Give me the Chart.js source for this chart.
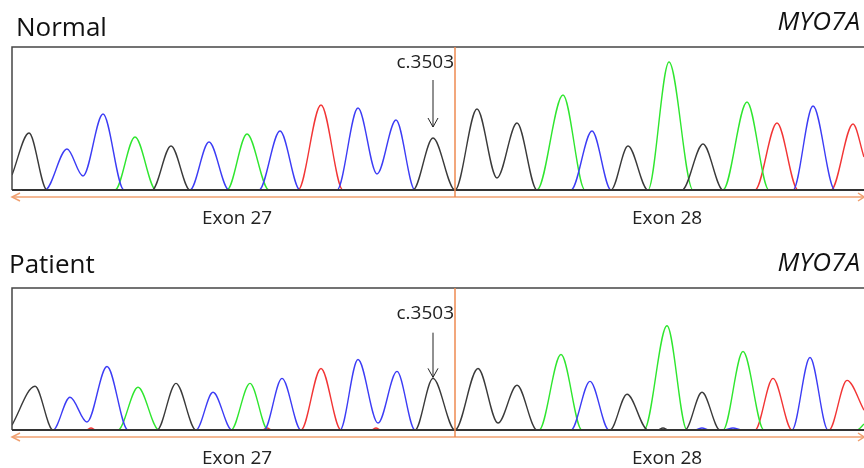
<!DOCTYPE html>
<html>
<head>
<meta charset="utf-8">
<script src="https://cdn.jsdelivr.net/npm/chart.js@4"></script>
<style>
  html, body { margin: 0; padding: 0; background: #fff; }
  #wrap { position: relative; width: 864px; height: 468px; }
  #wrap canvas { position: absolute; left: 0; }
</style>
</head>
<body>
<div id="wrap">
  <canvas id="normalChart" width="864" height="234" style="top:0"></canvas>
  <canvas id="patientChart" width="864" height="234" style="top:234px"></canvas>
</div>
<script>
// scan position vs signal (base, apex, valley, apex, base ...)
const normalBlack = [[0,15],[17,57],[35,0],[140,0],[159,44],[178,0],[401,0],[421,52],[443,0],[465,81],[485,12],[505,67],[525,0],[599,0],[616,44],[636,0],[670,0],[691,46],[711,0],[852,0]];
const normalBlue  = [[0,0],[33,0],[55,41],[71,14],[91,76],[112,0],[178,0],[197,48],[217,0],[247,0],[268,59],[288,0],[325,0],[346,82],[365,16],[384,70],[403,0],[559,0],[580,59],[599,0],[781,0],[801,84],[823,0],[852,0]];
const normalGreen = [[0,0],[103,0],[123,53],[144,0],[215,0],[235,56],[257,0],[525,0],[551,95],[573,0],[636,0],[657,128],[681,0],[711,0],[735,88],[757,0],[852,0]];
const normalRed   = [[0,0],[286,0],[309,85],[331,0],[743,0],[765,67],[786,0],[819,0],[841,66],[852,33]];

const patientBlack = [[0,5],[23,44],[41,0],[145,0],[164,47],[184,0],[403,0],[421,52],[443,0],[466,62],[486,7],[505,45],[525,0],[598,0],[615,36],[636,0],[645,0],[651,2],[657,0],[673,0],[690,38],[708,0],[852,0]];
const patientBlue  = [[0,0],[41,0],[58,33],[75,8],[95,64],[116,0],[184,0],[201,38],[220,0],[252,0],[270,52],[289,0],[328,0],[346,71],[366,7],[385,59],[403,0],[559,0],[578,49],[597,0],[683,0],[690,2],[697,0],[712,0],[721,2],[730,0],[780,0],[798,73],[816,0],[852,0]];
const patientGreen = [[0,0],[106,0],[126,43],[147,0],[219,0],[238,47],[256,0],[527,0],[549,76],[570,0],[632,0],[655,105],[675,0],[711,0],[731,79],[752,0],[845,0],[852,6]];
const patientRed   = [[0,0],[74,0],[79,2],[84,0],[250,0],[255,2],[260,0],[289,0],[309,62],[329,0],[359,0],[364,2],[369,0],[743,0],[761,52],[780,0],[817,0],[835,50],[852,20]];

const exonLabels = ['Exon 27', 'Exon 28'];
const exonLabelPos = [225, 655];
const exonBoundary = 443;
const mutationLabel = 'c.3503';
const mutationPos = 421;
const geneName = 'MYO7A';

const traceColors = { black: '#3a3a3a', blue: '#3c3cf5', green: '#2fe62f', red: '#f23535' };
const orange = '#f0a070';

function trace(data, color) {
  return {
    data: data.map(p => ({ x: p[0], y: p[1] })),
    borderColor: color,
    borderWidth: 1.4,
    pointRadius: 0,
    fill: false,
    cubicInterpolationMode: 'monotone'
  };
}

// frame, orange exon arrows, labels and the c.3503 marker
const decor = {
  id: 'decor',
  afterDatasetsDraw(chart, args, opts) {
    const ctx = chart.ctx;
    const a = chart.chartArea;
    const xs = chart.scales.x, ys = chart.scales.y;
    ctx.save();
    // box
    ctx.strokeStyle = '#454545';
    ctx.lineWidth = 1.5;
    ctx.beginPath();
    ctx.moveTo(chart.width, a.top); ctx.lineTo(a.left, a.top); ctx.lineTo(a.left, a.bottom);
    ctx.stroke();
    ctx.lineWidth = 2;
    ctx.strokeStyle = '#333';
    ctx.beginPath(); ctx.moveTo(a.left, a.bottom); ctx.lineTo(chart.width, a.bottom); ctx.stroke();

    // exon arrow line
    const ay = a.bottom + 7;
    ctx.strokeStyle = orange;
    ctx.lineWidth = 1.5;
    ctx.beginPath(); ctx.moveTo(a.left, ay); ctx.lineTo(chart.width, ay); ctx.stroke();
    ctx.beginPath();
    ctx.moveTo(a.left + 8, ay - 4); ctx.lineTo(a.left, ay); ctx.lineTo(a.left + 8, ay + 4);
    ctx.moveTo(chart.width - 6, ay - 4); ctx.lineTo(chart.width, ay); ctx.lineTo(chart.width - 6, ay + 4);
    ctx.stroke();
    const bx = xs.getPixelForValue(exonBoundary);
    ctx.strokeStyle = '#ee8a50';
    ctx.beginPath(); ctx.moveTo(bx, a.top); ctx.lineTo(bx, ay); ctx.stroke();

    // exon labels
    ctx.fillStyle = '#222';
    ctx.font = '19px "Open Sans", sans-serif';
    ctx.textAlign = 'center';
    ctx.textBaseline = 'middle';
    exonLabels.forEach((t, i) => ctx.fillText(t, xs.getPixelForValue(exonLabelPos[i]), a.bottom + 29));

    // mutation marker
    const mx = xs.getPixelForValue(mutationPos);
    ctx.textAlign = 'right';
    ctx.fillText(mutationLabel, bx - 1, ys.getPixelForValue(opts.labelY));
    ctx.strokeStyle = '#222';
    ctx.lineWidth = 1;
    const y1 = ys.getPixelForValue(opts.arrowFrom), y2 = ys.getPixelForValue(opts.arrowTo);
    ctx.beginPath(); ctx.moveTo(mx, y1); ctx.lineTo(mx, y2);
    ctx.moveTo(mx - 5, y2 - 9); ctx.lineTo(mx, y2); ctx.lineTo(mx + 5, y2 - 9);
    ctx.stroke();

    // titles
    ctx.fillStyle = '#111';
    ctx.textAlign = 'left';
    ctx.font = '26px "Open Sans", sans-serif';
    ctx.fillText(opts.title, opts.titleX, a.top - opts.titleGap);
    ctx.textAlign = 'right';
    ctx.font = 'italic 26px "Open Sans", sans-serif';
    ctx.fillText(geneName, chart.width - 4, a.top - opts.geneGap);
    ctx.restore();
  }
};

function makeChart(id, traces, padding, decorOpts) {
  return new Chart(document.getElementById(id), {
    type: 'line',
    data: {
      datasets: [
        trace(traces[0], traceColors.black),
        trace(traces[1], traceColors.blue),
        trace(traces[2], traceColors.green),
        trace(traces[3], traceColors.red)
      ]
    },
    options: {
      responsive: false,
      animation: false,
      layout: { padding: padding },
      plugins: { legend: { display: false }, tooltip: { enabled: false }, decor: decorOpts },
      scales: {
        x: { type: 'linear', min: 0, max: 852, display: false },
        y: { min: 0, max: 143, display: false }
      }
    },
    plugins: [decor]
  });
}

makeChart('normalChart', [normalBlack, normalBlue, normalGreen, normalRed],
  { left: 12, right: 0, top: 47, bottom: 44 },
  { title: 'Normal', titleX: 16, titleGap: 18, geneGap: 24, labelY: 127, arrowFrom: 110, arrowTo: 63 });

makeChart('patientChart', [patientBlack, patientBlue, patientGreen, patientRed],
  { left: 12, right: 0, top: 54, bottom: 38 },
  { title: 'Patient', titleX: 9, titleGap: 22, geneGap: 24, labelY: 117, arrowFrom: 98, arrowTo: 53 });
</script>
</body>
</html>
